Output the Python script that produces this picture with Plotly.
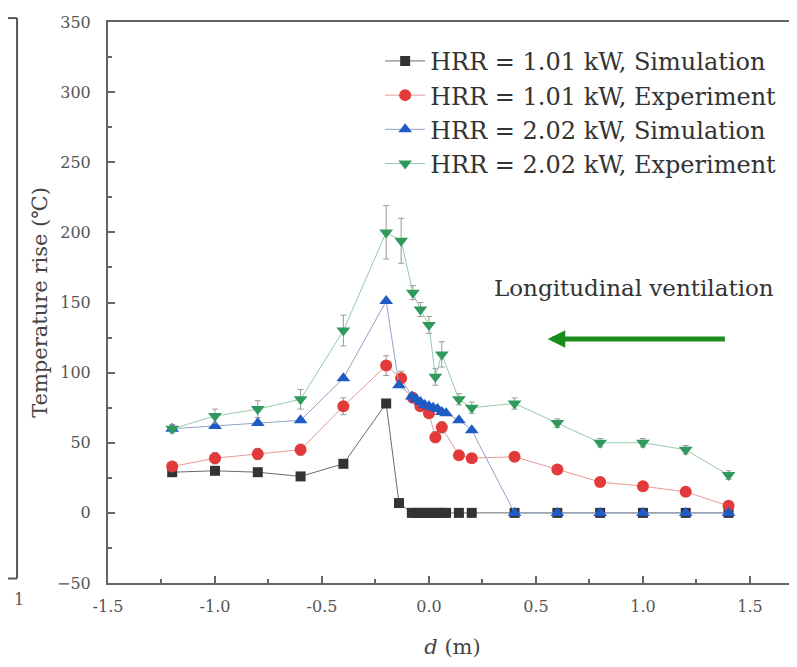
import plotly.graph_objects as go

# ---- data ----
x_sim = [-1.2, -1.0, -0.8, -0.6, -0.4, -0.2, -0.14, -0.08, -0.06, -0.04, -0.02, 0.0,
         0.02, 0.04, 0.06, 0.08, 0.14, 0.2, 0.4, 0.6, 0.8, 1.0, 1.2, 1.4]
sim_101 = [29, 30, 29, 26, 35, 78, 7, 0, 0, 0, 0, 0, 0, 0, 0, 0, 0, 0, 0, 0, 0, 0, 0, 0]
sim_202 = [60, 62, 64, 66, 96, 151, 91, 83, 81, 79, 77, 76, 75, 74, 72, 71, 66, 59,
           0, 0, 0, 0, 0, 0]

x_exp = [-1.2, -1.0, -0.8, -0.6, -0.4, -0.2, -0.13, -0.075, -0.04, 0.0, 0.03, 0.06,
         0.14, 0.2, 0.4, 0.6, 0.8, 1.0, 1.2, 1.4]
exp_101 = [33, 39, 42, 45, 76, 105, 96, 82, 76, 71, 54, 61, 41, 39, 40, 31, 22, 19, 15, 5]
err_101 = [3, 4, 4, 4, 6, 7, 5, 3, 3, 3, 4, 4, 3, 3, 3, 3, 3, 3, 3, 3]
exp_202 = [60, 69, 74, 81, 130, 200, 194, 157, 145, 134, 97, 113, 81, 75, 78, 64, 50, 50, 45, 27]
err_202 = [3, 5, 6, 7, 11, 19, 16, 5, 5, 6, 6, 9, 4, 4, 4, 3, 3, 3, 3, 3]

names = ["HRR = 1.01 kW, Simulation", "HRR = 1.01 kW, Experiment",
         "HRR = 2.02 kW, Simulation", "HRR = 2.02 kW, Experiment"]

x_ticks = [-1.5, -1.0, -0.5, 0.0, 0.5, 1.0, 1.5]
y_ticks = [-50, 0, 50, 100, 150, 200, 250, 300, 350]

FONT = "DejaVu Serif"

fig = go.Figure()

fig.add_trace(go.Scatter(
    x=x_sim, y=sim_101, name=names[0], mode="lines+markers",
    line=dict(color="#6b6b6b", width=1),
    marker=dict(symbol="square", size=10, color="#333333")))
fig.add_trace(go.Scatter(
    x=x_exp, y=exp_101, name=names[1], mode="lines+markers",
    line=dict(color="#e79a9a", width=1),
    marker=dict(symbol="circle", size=12, color="#e23a3a"),
    error_y=dict(type="data", array=err_101, color="#999999", thickness=1, width=3)))
fig.add_trace(go.Scatter(
    x=x_sim, y=sim_202, name=names[2], mode="lines+markers",
    line=dict(color="#8fa3c8", width=1),
    marker=dict(symbol="triangle-up", size=12, color="#1f5bc4")))
fig.add_trace(go.Scatter(
    x=x_exp, y=exp_202, name=names[3], mode="lines+markers",
    line=dict(color="#95c9aa", width=1),
    marker=dict(symbol="triangle-down", size=12, color="#2f9a5c"),
    error_y=dict(type="data", array=err_202, color="#999999", thickness=1, width=3)))

axis_common = dict(
    showline=True, linecolor="#666666", linewidth=2,
    ticks="inside", ticklen=7, tickwidth=1.5, tickcolor="#666666",
    showgrid=False, zeroline=False, automargin=False,
    tickfont=dict(family=FONT, size=16, color="#555555"),
)

fig.update_xaxes(
    range=[-1.5, 1.72], tickvals=x_ticks, ticktext=[f"{v:.1f}" for v in x_ticks],
    mirror=True, ticklabelstandoff=8,
    minor=dict(ticks="inside", dtick=0.25, tick0=-1.5, ticklen=4, tickcolor="#666666"),
    title=dict(text="<i>d</i> (m)", font=dict(family=FONT, size=21, color="#444444"),
               standoff=24),
    **axis_common)
fig.update_yaxes(
    range=[-50, 350], tickvals=y_ticks, ticklabelstandoff=12,
    minor=dict(ticks="inside", dtick=25, tick0=-50, ticklen=4, tickcolor="#666666"),
    title=dict(text="Temperature rise (℃)",
               font=dict(family=FONT, size=21, color="#444444"), standoff=4),
    **axis_common)

fig.add_annotation(x=0.96, y=160, text="Longitudinal ventilation", showarrow=False,
                   font=dict(family=FONT, size=23, color="#333333"))
fig.add_annotation(x=0.555, y=124, ax=1.39, ay=124, xref="x", yref="y",
                   axref="x", ayref="y", text="", showarrow=True,
                   arrowhead=2, arrowsize=0.7, arrowwidth=5, arrowcolor="#1c8c1c")

# remnants of the neighbouring panel on the left
fig.add_shape(type="line", xref="paper", yref="paper", x0=-0.132, x1=-0.132,
              y0=0.008, y1=1.007, line=dict(color="#555555", width=2))
fig.add_shape(type="line", xref="paper", yref="paper", x0=-0.145, x1=-0.132,
              y0=1.007, y1=1.007, line=dict(color="#555555", width=2))
fig.add_shape(type="line", xref="paper", yref="paper", x0=-0.145, x1=-0.132,
              y0=0.008, y1=0.008, line=dict(color="#555555", width=2))
fig.add_annotation(xref="paper", yref="paper", x=-0.14, y=-0.05, text="1",
                   showarrow=False, font=dict(family=FONT, size=16, color="#555555"))

# page body adds an 8px margin, so the figure is 8px smaller than the window
fig.update_layout(
    width=789, height=659,
    margin=dict(l=100, r=0, t=14, b=84, autoexpand=False),
    plot_bgcolor="white", paper_bgcolor="white",
    showlegend=True,
    legend=dict(x=0.395, y=0.97, xanchor="left", yanchor="top",
                bgcolor="rgba(0,0,0,0)", tracegroupgap=0,
                font=dict(family=FONT, size=24, color="#333333"),
                itemwidth=40),
)

fig.write_html("out.html")
